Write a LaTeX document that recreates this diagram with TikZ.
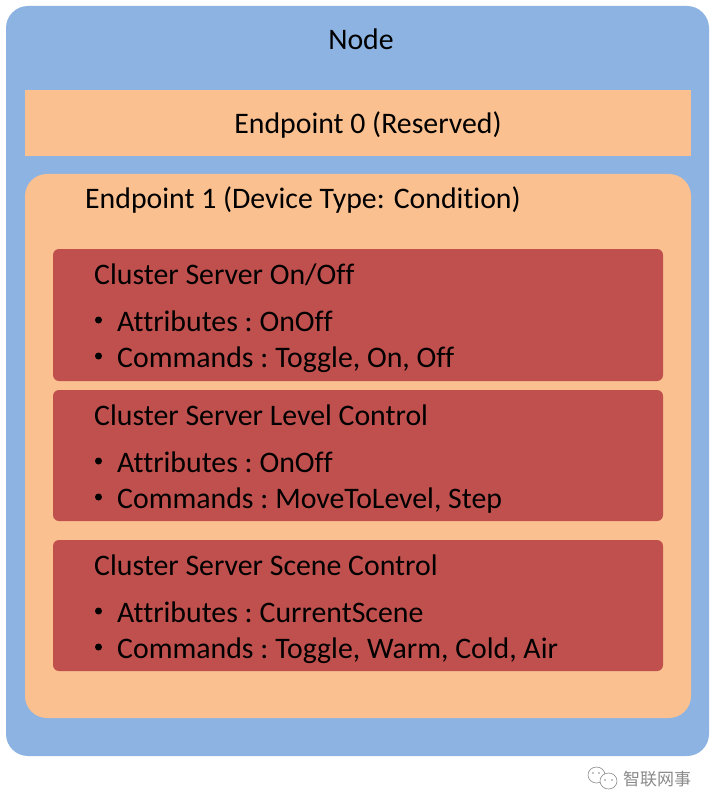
\documentclass[tikz,border=0pt]{standalone}
\usepackage{fontspec}
\setmainfont[Ligatures={NoCommon}]{Carlito}
\newfontfamily\cjk{Noto Sans CJK SC}
\definecolor{nodeblue}{HTML}{8DB3E2}
\definecolor{endpt}{HTML}{FAC090}
\definecolor{clust}{HTML}{C0504D}
\definecolor{wm}{HTML}{8A8A8A}
\tikzset{
  x=1pt,y=-1pt,
  lab/.style={inner sep=0pt,anchor=base west,font=\fontsize{29.8}{30}\selectfont,text=black},
  labc/.style={inner sep=0pt,anchor=base,font=\fontsize{29.8}{30}\selectfont,text=black},
  bigbox/.style={fill=#1,draw=none,rounded corners=22pt},
  clbox/.style={fill=clust,draw=none,rounded corners=6pt},
  bul/.style={circle,fill=black,inner sep=0pt,minimum size=7pt}
}
\begin{document}
\begin{tikzpicture}
\useasboundingbox (0,0) rectangle (713,810);
\fill[bigbox=nodeblue] (6,6) rectangle (709,756);
\fill[endpt] (25,90) rectangle (691,156);
\fill[bigbox=endpt] (25,174) rectangle (691,718);
\fill[clbox] (53,249) rectangle (663,381);
\fill[clbox] (53,390) rectangle (663,521);
\fill[clbox] (53,540) rectangle (663,671);
\node[labc] (nodet) at (361,50) {Node};
\node[labc] (ep0) at (368,134) {Endpoint 0 (Reserved)};
\node[lab] (ep1) at (85,209) {Endpoint 1 (Device Type: Condition)};
\node[lab] (c1) at (94,284) {Cluster Server On/Off};
\node[bul] (b1a) at (98.5,320) {};
\node[lab] (c1a) at (117,331) {Attributes :\kern-2pt{} OnOff};
\node[bul] (b1b) at (98.5,356) {};
\node[lab] (c1b) at (117,367) {Commands :\kern-2pt{} Toggle, On, Off};
\node[lab] (c2) at (94,425) {Cluster Server Level Control};
\node[bul] (b2a) at (98.5,461) {};
\node[lab] (c2a) at (117,472) {Attributes :\kern-2pt{} OnOff};
\node[bul] (b2b) at (98.5,497) {};
\node[lab] (c2b) at (117,508) {Commands :\kern-2pt{} MoveToLevel, Step};
\node[lab] (c3) at (94,575) {Cluster Server Scene Control};
\node[bul] (b3a) at (98.5,611) {};
\node[lab] (c3a) at (117,622) {Attributes :\kern-2pt{} CurrentScene};
\node[bul] (b3b) at (98.5,647) {};
\node[lab] (c3b) at (117,658) {Commands :\kern-2pt{} Toggle, Warm, Cold, Air};
% watermark
\draw[wm,line width=0.6pt,fill=white] (596.5,775) ellipse (8.5 and 8);
\draw[wm,line width=0.6pt,fill=white] (608.5,781) ellipse (8.5 and 8);
\fill[wm] (593,773) circle (0.8) (599,773) circle (0.8) (605,780) circle (0.8) (612,780) circle (0.8);
\node[inner sep=0pt,anchor=west,text=wm,font=\cjk\fontsize{17}{17}\selectfont] (wmark) at (623,779) {智联网事};
\end{tikzpicture}
\end{document}
